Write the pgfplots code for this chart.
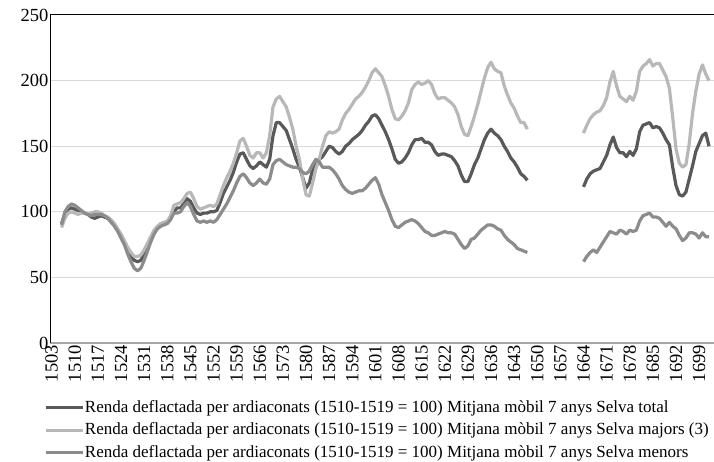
\documentclass[border=0pt]{standalone}
\usepackage{fontspec}
\setmainfont{Liberation Serif}
\usepackage{pgfplots}
\usepackage{pgfplotstable}
\pgfplotsset{compat=1.18}
\definecolor{cTotal}{HTML}{595959}
\definecolor{cMaj}{HTML}{B8B8B8}
\definecolor{cMen}{HTML}{8C8C8C}
\definecolor{cGrid}{HTML}{D9D9D9}
\definecolor{cXax}{HTML}{A6A6A6}
\newcommand{\fs}{\fontsize{17bp}{20bp}\selectfont}
\newcommand{\ft}{\fontsize{18.5bp}{21bp}\selectfont}
\pgfplotstableread{
year total majors menors
1506 91 88 90
1507 98 95 100
1508 102 99 104
1509 103 100 106
1510 102 99 105
1511 101 98 103
1512 100 99 101
1513 99 99 99
1514 98 98 98
1515 96 99 97
1516 95 100 98
1517 96 100 98
1518 97 99 98
1519 96 97 97
1520 95 96 95
1521 93 94 92
1522 90 91 89
1523 86 87 85
1524 82 83 80
1525 77 78 75
1526 71 73 68
1527 66 69 62
1528 63 66 57
1529 62 66 55
1530 63 67 57
1531 68 71 63
1532 74 76 70
1533 80 81 77
1534 85 86 83
1535 88 89 87
1536 90 91 89
1537 91 92 90
1538 92 93 91
1539 95 97 94
1540 100 105 99
1541 103 106 99
1542 103 107 100
1543 106 110 104
1544 110 114 107
1545 108 115 104
1546 103 110 98
1547 99 104 93
1548 98 102 92
1549 99 103 93
1550 99 104 92
1551 100 105 93
1552 100 104 92
1553 101 106 94
1554 107 113 98
1555 114 120 102
1556 119 126 106
1557 124 131 111
1558 130 137 116
1559 138 145 122
1560 144 154 127
1561 145 156 129
1562 140 150 126
1563 135 143 122
1564 133 141 120
1565 135 145 122
1566 138 145 125
1567 136 141 122
1568 134 145 121
1569 140 158 125
1570 158 180 136
1571 168 186 139
1572 168 188 140
1573 165 184 138
1574 162 180 136
1575 155 172 135
1576 148 163 134
1577 140 150 134
1578 134 140 133
1579 126 125 130
1580 118 113 129
1581 122 112 131
1582 132 122 136
1583 138 133 140
1584 140 140 138
1585 142 150 134
1586 146 158 134
1587 150 161 134
1588 149 160 132
1589 146 161 129
1590 144 163 125
1591 146 170 120
1592 150 175 117
1593 152 178 115
1594 155 182 114
1595 157 186 115
1596 159 188 116
1597 162 191 116
1598 166 195 118
1599 169 200 121
1600 173 206 124
1601 174 209 126
1602 171 206 121
1603 166 203 113
1604 161 196 107
1605 155 188 101
1606 148 178 94
1607 140 171 89
1608 137 170 88
1609 138 173 90
1610 141 177 92
1611 145 183 93
1612 151 193 94
1613 155 197 93
1614 155 199 91
1615 156 197 88
1616 153 198 85
1617 153 200 84
1618 151 197 82
1619 146 190 82
1620 143 186 83
1621 144 187 84
1622 144 187 85
1623 143 185 84
1624 142 183 84
1625 139 180 83
1626 135 174 79
1627 128 165 75
1628 123 159 72
1629 123 158 74
1630 129 165 79
1631 136 173 80
1632 141 182 83
1633 148 192 86
1634 155 202 88
1635 160 210 90
1636 163 214 90
1637 160 209 89
1638 158 207 87
1639 155 206 86
1640 150 196 82
1641 146 189 79
1642 141 183 77
1643 138 179 75
1644 134 173 72
1645 129 168 71
1646 127 168 70
1647 124 163 69
1648 nan nan nan
1664 119 160 62
1665 125 166 66
1666 129 171 69
1667 131 174 71
1668 132 176 69
1669 133 177 73
1670 138 181 77
1671 143 187 81
1672 151 199 85
1673 157 207 84
1674 149 196 83
1675 145 188 86
1676 145 186 85
1677 142 184 83
1678 146 188 86
1679 143 185 85
1680 148 192 86
1681 161 207 93
1682 166 211 97
1683 167 213 98
1684 168 216 99
1685 164 211 96
1686 165 213 96
1687 164 213 95
1688 160 208 92
1689 155 203 89
1690 151 194 92
1691 134 172 89
1692 120 148 87
1693 113 137 82
1694 112 134 78
1695 115 136 80
1696 125 152 84
1697 135 175 84
1698 146 192 83
1699 152 205 80
1700 158 212 84
1701 160 205 81
1702 150 200 81
}\data
\begin{document}
\fs
\begin{tikzpicture}
\path[use as bounding box] (0,0) rectangle (714bp,462bp);
\begin{axis}[
  at={(50bp,119bp)}, anchor=south west,
  scale only axis, width=664bp, height=328bp,
  xmin=1502.5, xmax=1703.5, ymin=0, ymax=250,
  ytick={0,50,...,250}, xtick={1503,1510,...,1699},
  ymajorgrids, grid style={color=cGrid, line width=1bp},
  axis x line*=bottom, axis y line*=left,
  x axis line style={color=cXax, line width=1.5bp, -},
  y axis line style={black, line width=1bp, -},
  major tick length=0pt,
  /pgf/number format/assume math mode=true,
  /pgf/number format/1000 sep={},
  tick label style={font=\ft},
  xticklabel style={rotate=90, anchor=east, inner sep=2bp},
  yticklabel style={inner sep=1.5bp},
  unbounded coords=jump,
  legend style={at={(axis description cs:-0.009,-0.173)}, anchor=north west,
    draw=none, fill=none, font=\fs, row sep=7bp, column sep=0pt, inner sep=0pt,
    nodes={inner sep=0.5bp}},
  legend cell align=left,
  legend image code/.code={\draw[#1] (0bp,0bp) -- (37bp,0bp);},
  every axis plot/.append style={line width=3.2bp, line join=round},
]
\addplot[color=cTotal] table[x=year, y=total] {\data};
\addlegendentry{Renda deflactada per ardiaconats (1510-1519 = 100) Mitjana mòbil 7 anys Selva total}
\addplot[color=cMaj] table[x=year, y=majors] {\data};
\addlegendentry{Renda deflactada per ardiaconats (1510-1519 = 100) Mitjana mòbil 7 anys Selva majors (3)}
\addplot[color=cMen] table[x=year, y=menors] {\data};
\addlegendentry{Renda deflactada per ardiaconats (1510-1519 = 100) Mitjana mòbil 7 anys Selva menors}
\end{axis}
\draw[black, line width=1bp] (50bp,447bp) -- (714bp,447bp);
\end{tikzpicture}
\end{document}
